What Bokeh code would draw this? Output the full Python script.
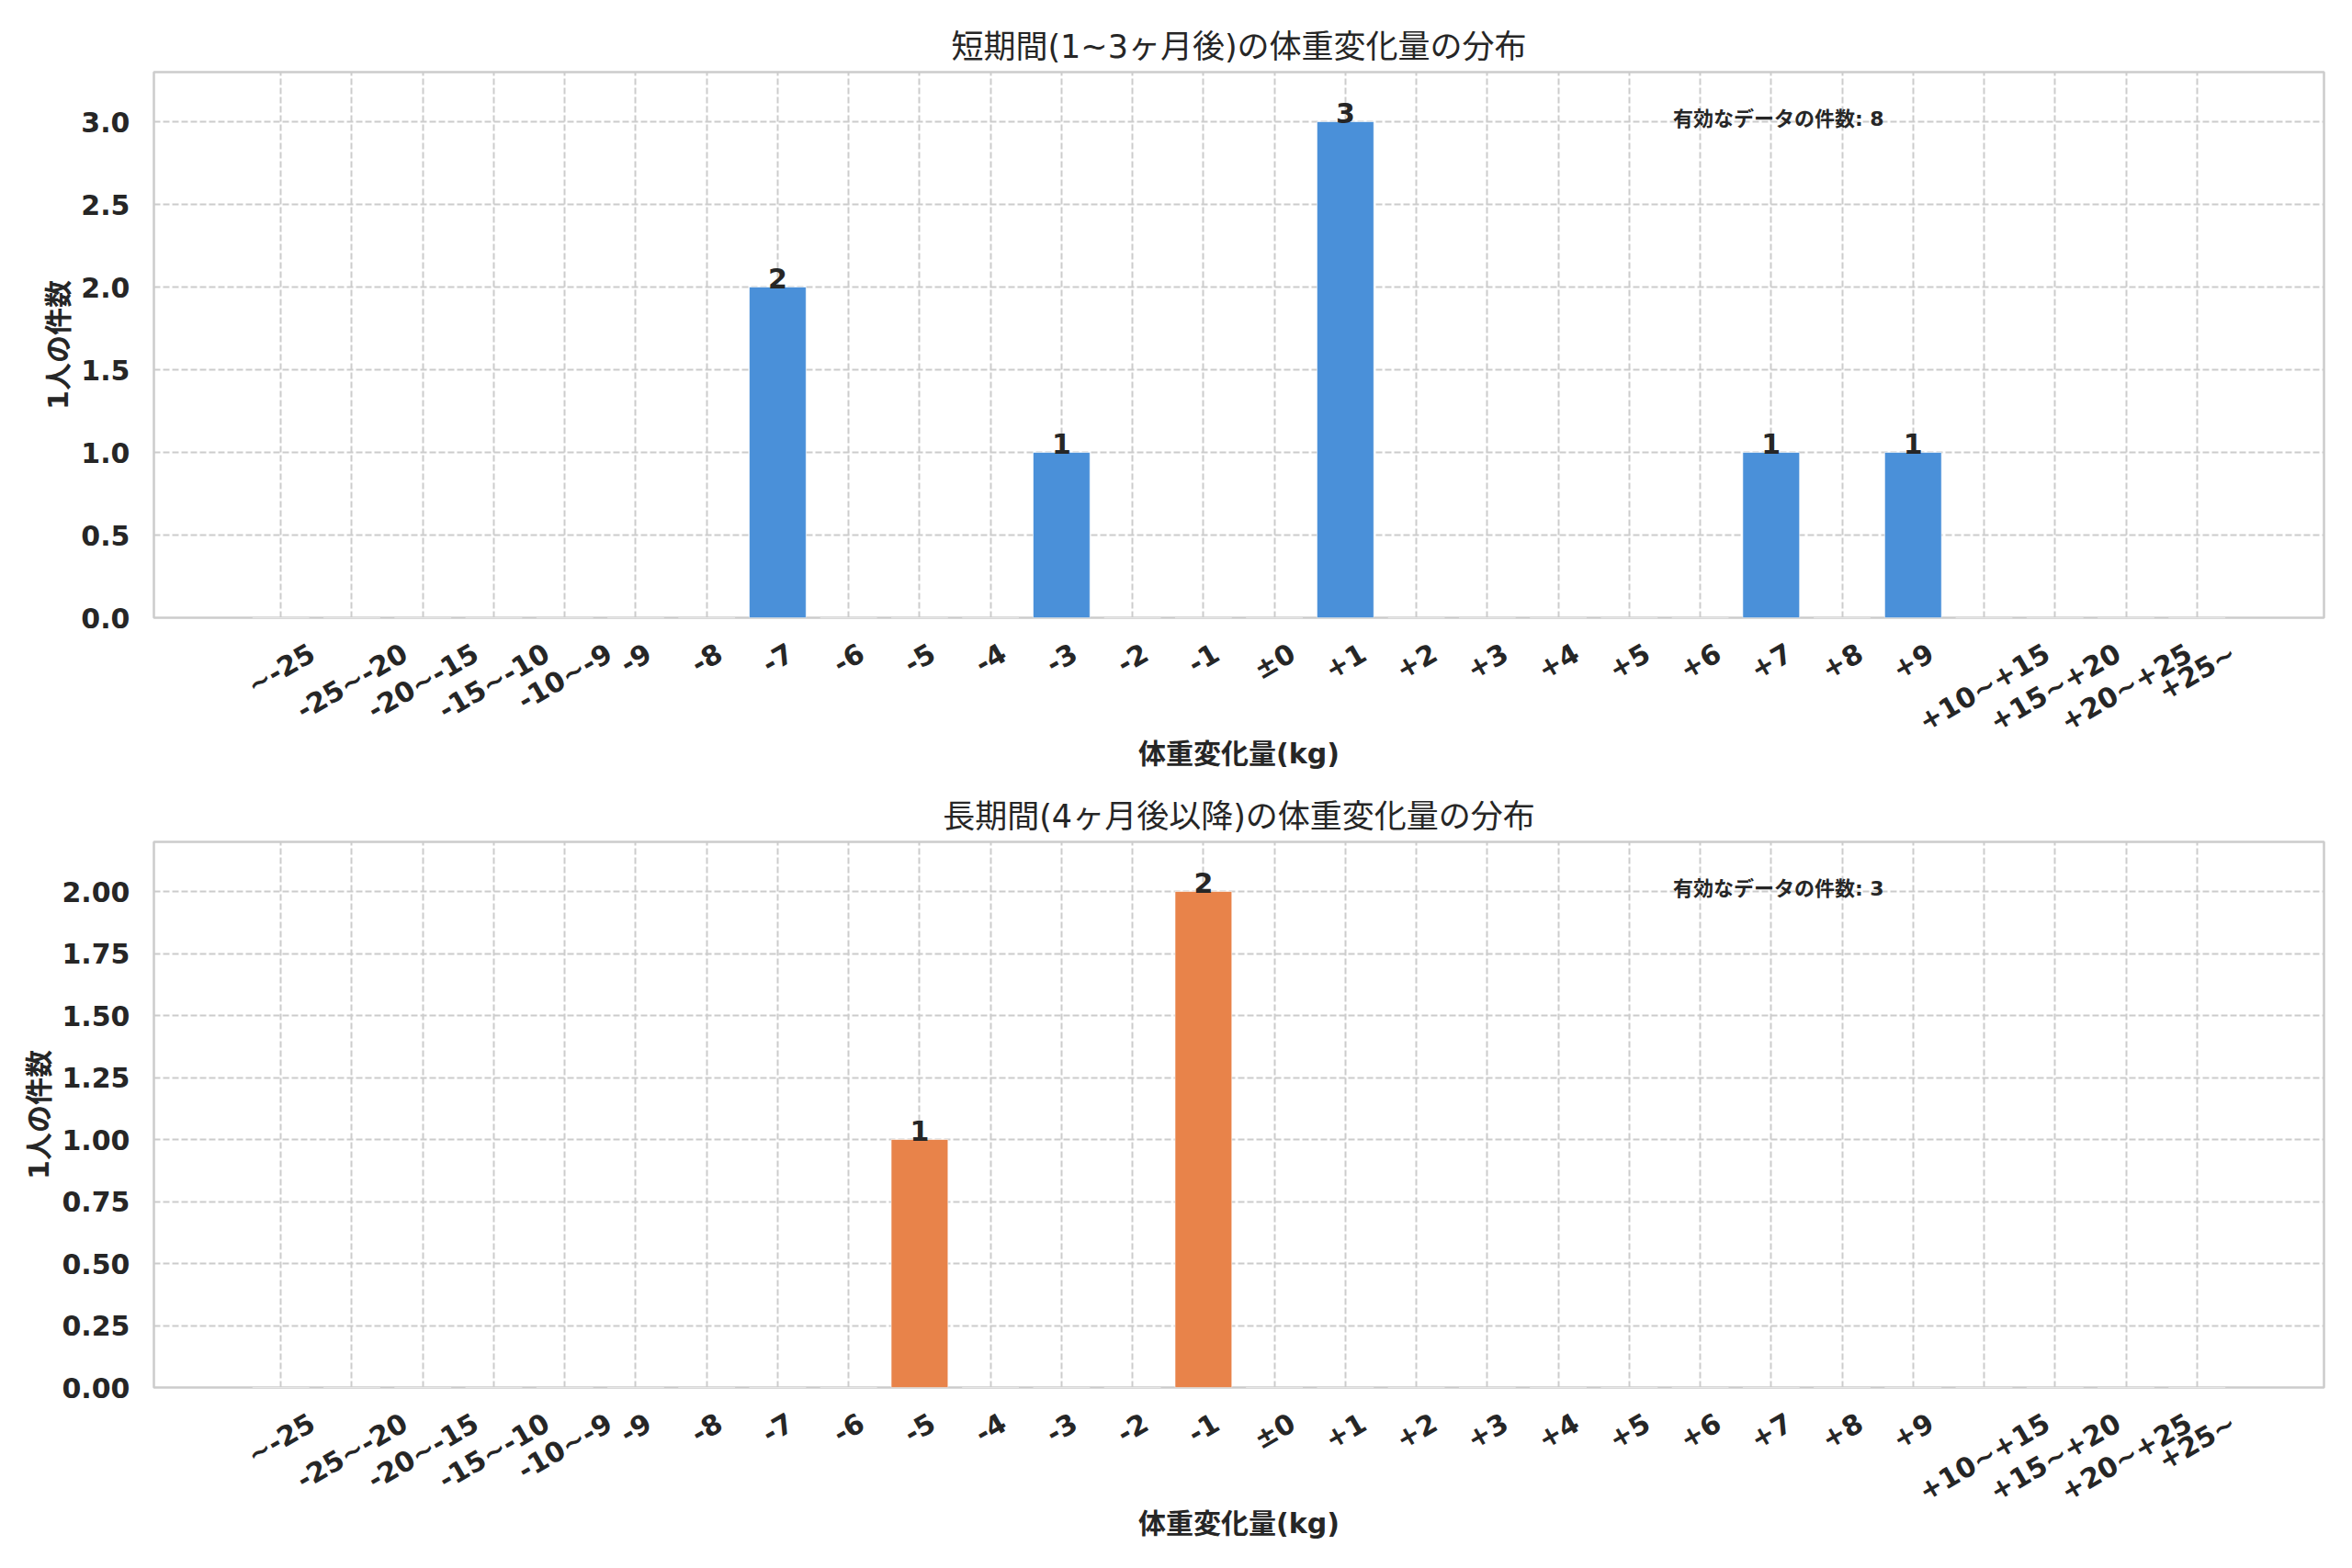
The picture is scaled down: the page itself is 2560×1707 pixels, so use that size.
import math
from bokeh.plotting import figure
from bokeh.layouts import column
from bokeh.models import FixedTicker, Range1d, Label, NumeralTickFormatter
from bokeh.core.properties import value
from bokeh.embed import file_html
from bokeh.resources import INLINE

# ---------------- data ----------------
categories = ["~-25", "-25~-20", "-20~-15", "-15~-10", "-10~-9",
              "-9", "-8", "-7", "-6", "-5", "-4", "-3", "-2", "-1",
              "±0",
              "+1", "+2", "+3", "+4", "+5", "+6", "+7", "+8", "+9",
              "+10~+15", "+15~+20", "+20~+25", "+25~"]

short_counts = [0, 0, 0, 0, 0,
                0, 0, 2, 0, 0, 0, 1, 0, 0,
                0,
                3, 0, 0, 0, 0, 0, 1, 0, 1,
                0, 0, 0, 0]

long_counts = [0, 0, 0, 0, 0,
               0, 0, 0, 0, 1, 0, 0, 0, 2,
               0,
               0, 0, 0, 0, 0, 0, 0, 0, 0,
               0, 0, 0, 0]

short_yticks = [0.0, 0.5, 1.0, 1.5, 2.0, 2.5, 3.0]
long_yticks = [0.0, 0.25, 0.5, 0.75, 1.0, 1.25, 1.5, 1.75, 2.0]

short_title = "短期間(1~3ヶ月後)の体重変化量の分布"
long_title = "長期間(4ヶ月後以降)の体重変化量の分布"
x_label = "体重変化量(kg)"
y_label = "1人の件数"
total_label = "有効なデータの件数"

short_color = "#4A90D9"
long_color = "#E8834A"

FONT = "'DejaVu Sans', 'Noto Sans CJK JP', sans-serif"
TEXT_COLOR = "#262626"
GRID_COLOR = "#cccccc"

FRAME_W = 2362
TICK_PX = 30
ANGLE = math.pi / 6
# approximate advance widths (em) of DejaVu Sans Bold; used so that the rotated
# (right-anchored) tick labels end up centred under their category like matplotlib
CHAR_EM = {"-": 0.415, "~": 0.838, "+": 0.838, "±": 0.838}


def text_px(s):
    return sum(CHAR_EM.get(ch, 0.696) for ch in s) * TICK_PX


def make_fig(counts, yticks, fmt, color, title, height, border_top, border_bottom):
    n = len(categories)
    xs = list(range(n))
    bar_w = 0.8
    pad = 0.05 * ((n - 1) + bar_w)
    x0 = -bar_w / 2 - pad
    x1 = (n - 1) + bar_w / 2 + pad
    ymax = max(counts) * 1.1
    px_per_unit = FRAME_W / (x1 - x0)

    p = figure(width=2552, height=height, output_backend="svg", toolbar_location=None,
               x_range=Range1d(x0, x1), y_range=Range1d(0, ymax),
               min_border_left=167, min_border_right=23,
               min_border_top=border_top, min_border_bottom=border_bottom,
               background_fill_color="white", border_fill_color="white")

    p.title.text = title
    p.title.align = "center"
    p.title.text_font = FONT
    p.title.text_font_size = "35px"
    p.title.text_font_style = "normal"
    p.title.text_color = TEXT_COLOR
    p.title.standoff = 15

    p.outline_line_color = GRID_COLOR
    p.outline_line_width = 2.5

    p.vbar(x=xs, top=counts, width=bar_w, fill_color=color, line_color="white",
           line_width=1, line_alpha=0.6)

    lx = [i for i, c in zip(xs, counts) if c > 0]
    ly = [c for c in counts if c > 0]
    lt = [str(c) for c in counts if c > 0]
    p.text(x=lx, y=ly, text=lt, text_align="center", text_baseline="bottom",
           y_offset=1,
           text_font=value(FONT), text_font_style="bold", text_font_size="30px",
           text_color=TEXT_COLOR)

    total = sum(counts)
    ann = Label(x=x0 + 0.70 * (x1 - x0), y=0.914 * ymax,
                text=f"{total_label}: {total}",
                text_font=FONT, text_font_style="bold", text_font_size="22px",
                text_color=TEXT_COLOR, text_align="left", text_baseline="middle")
    p.add_layout(ann)

    # x axis: label anchors shifted so that each rotated label is centred on its bar
    label_ticks = []
    overrides = {}
    for i, c in zip(xs, categories):
        shift = (text_px(c) / 2) * math.cos(ANGLE) / px_per_unit
        t = round(i + shift, 3)
        label_ticks.append(t)
        overrides[t] = c
    p.xaxis.ticker = FixedTicker(ticks=label_ticks)
    p.xaxis.major_label_overrides = overrides
    p.xaxis.major_label_orientation = ANGLE
    p.xaxis.major_label_text_font = FONT
    p.xaxis.major_label_text_font_style = "bold"
    p.xaxis.major_label_text_font_size = f"{TICK_PX}px"
    p.xaxis.major_label_text_color = TEXT_COLOR
    p.xaxis.major_label_standoff = 30
    p.xaxis.axis_label = x_label
    p.xaxis.axis_label_text_font = FONT
    p.xaxis.axis_label_text_font_style = "bold"
    p.xaxis.axis_label_text_font_size = "30px"
    p.xaxis.axis_label_text_color = TEXT_COLOR
    p.xaxis.axis_label_standoff = -18

    # y axis
    p.yaxis.ticker = FixedTicker(ticks=yticks)
    p.yaxis.formatter = NumeralTickFormatter(format=fmt)
    p.yaxis.major_label_text_font = FONT
    p.yaxis.major_label_text_font_style = "bold"
    p.yaxis.major_label_text_font_size = "30px"
    p.yaxis.major_label_text_color = TEXT_COLOR
    p.yaxis.major_label_standoff = 20
    p.yaxis.axis_label = y_label
    p.yaxis.axis_label_text_font = FONT
    p.yaxis.axis_label_text_font_style = "bold"
    p.yaxis.axis_label_text_font_size = "30px"
    p.yaxis.axis_label_text_color = TEXT_COLOR
    p.yaxis.axis_label_standoff = 4

    for ax in (p.xaxis, p.yaxis):
        ax.axis_line_color = None
        ax.major_tick_line_color = None
        ax.minor_tick_line_color = None

    p.xgrid.ticker = FixedTicker(ticks=xs)
    p.ygrid.ticker = FixedTicker(ticks=yticks)
    for g in (p.xgrid, p.ygrid):
        g.grid_line_color = GRID_COLOR
        g.grid_line_width = 2
        g.grid_line_dash = "7 3"
    return p


p1 = make_fig(short_counts, short_yticks, "0.0", short_color, short_title,
              height=850, border_top=78, border_bottom=178)
p2 = make_fig(long_counts, long_yticks, "0.00", long_color, long_title,
              height=849, border_top=66, border_bottom=189)

layout = column(p1, p2, spacing=0)
open("out.html", "w").write(file_html(layout, INLINE))
